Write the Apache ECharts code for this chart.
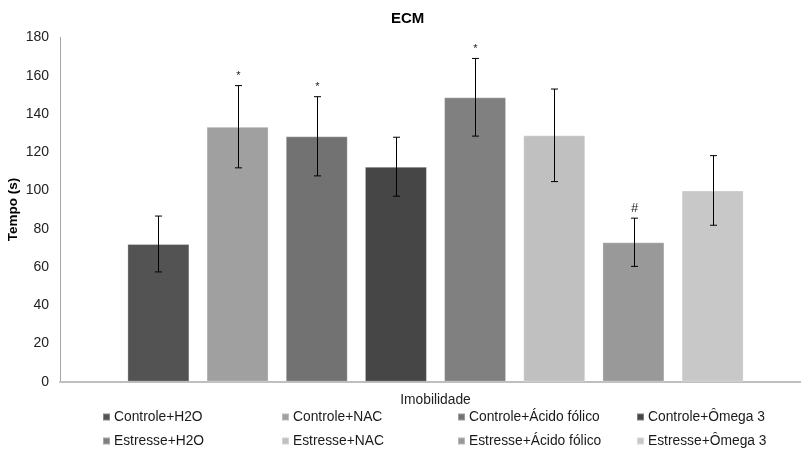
<!DOCTYPE html>
<html>
<head>
<meta charset="utf-8">
<script src="https://cdn.jsdelivr.net/npm/echarts@6/dist/echarts.min.js"></script>
<style>html,body{margin:0;padding:0;background:#fff}#c{width:801px;height:453px}</style>
</head>
<body>
<div id="c"></div>
<script>
var category = ['Imobilidade'];
var groupNames = ['Controle+H2O','Controle+NAC','Controle+Ácido fólico','Controle+Ômega 3','Estresse+H2O','Estresse+NAC','Estresse+Ácido fólico','Estresse+Ômega 3'];
var means = [72.0, 133.3, 128.3, 112.4, 148.7, 128.8, 72.9, 100.0];
var errors = [14.6, 21.5, 20.7, 15.4, 20.3, 24.2, 12.6, 18.2];
var marks = ['', '*', '*', '', '*', '', '#', ''];
var colors = ['#535353','#a0a0a0','#727272','#464646','#808080','#c0c0c0','#999999','#c8c8c8'];
var yTicks = {min: 0, max: 180, interval: 20};

var BAR_W = 62, GAP = 17.2;
var font = '"Liberation Sans", Arial, sans-serif';

var series = groupNames.map(function (n, i) {
  return {
    name: n, type: 'bar', data: [means[i]],
    barWidth: BAR_W, barGap: (GAP / BAR_W * 100).toFixed(1) + '%',
    itemStyle: {color: colors[i], borderColor: 'rgba(255,255,255,0.3)', borderWidth: 1},
    emphasis: {disabled: true}
  };
});

var errData = means.map(function (m, i) { return [0, m, errors[i], i]; });
series.push({
  type: 'custom', name: 'err', silent: true, z: 10,
  data: errData,
  encode: {x: 0, y: 1},
  renderItem: function (params, api) {
    var m = api.value(1), e = api.value(2), i = api.value(3);
    var off = (i - 3.5) * (BAR_W + GAP);
    var top = api.coord([0, m + e]);
    var bot = api.coord([0, m - e]);
    var x = Math.round(top[0] + off) + 0.5;
    var st = {stroke: '#000', lineWidth: 1};
    var children = [
      {type: 'line', shape: {x1: x, y1: top[1], x2: x, y2: bot[1]}, style: st},
      {type: 'line', shape: {x1: x - 3.5, y1: top[1], x2: x + 3.5, y2: top[1]}, style: st},
      {type: 'line', shape: {x1: x - 3.5, y1: bot[1], x2: x + 3.5, y2: bot[1]}, style: st}
    ];
    var mk = marks[i];
    if (mk) {
      children.push({
        type: 'text',
        style: {text: mk, x: x, y: top[1] - (mk === '#' ? 3 : 4), align: 'center', verticalAlign: 'bottom',
          fill: '#222', font: (mk === '#' ? '13px ' : '11px ') + font}
      });
    }
    return {type: 'group', children: children};
  }
});

var legendLefts = [102, 281, 457, 636];
var legendTops = [409, 433];
var legends = groupNames.map(function (n, k) {
  return {
    orient: 'horizontal', left: legendLefts[k % 4], top: legendTops[Math.floor(k / 4)],
    padding: 0, itemWidth: 7, itemHeight: 7,
    icon: 'rect', selectedMode: false,
    data: [n],
    textStyle: {fontFamily: font, fontSize: 13.8, color: '#1a1a1a', lineHeight: 16, padding: [0,0,0,-1]}
  };
});

var chart = echarts.init(document.getElementById('c'), null, {renderer: 'canvas'});
chart.setOption({
  animation: false,
  backgroundColor: '#fff',
  title: {text: 'ECM', left: 386, top: 6,
    textStyle: {fontFamily: font, fontSize: 15, fontWeight: 'bold', color: '#000'}},
  legend: legends,
  grid: {left: 60, top: 37.4, width: 751, bottom: 71.3, containLabel: false, outerBoundsMode: 'none'},
  xAxis: {
    type: 'category', data: category,
    axisLine: {show: true, lineStyle: {color: '#bfbfbf', width: 2}},
    axisTick: {show: false},
    axisLabel: {fontFamily: font, fontSize: 13.8, color: '#222', margin: 11}
  },
  yAxis: {
    type: 'value', min: yTicks.min, max: yTicks.max, interval: yTicks.interval,
    name: 'Tempo (s)', nameLocation: 'middle', nameGap: 40, nameRotate: 90, nameMoveOverlap: false,
    nameTextStyle: {fontFamily: font, fontSize: 13.5, fontWeight: 'bold', color: '#000'},
    axisLine: {show: true, lineStyle: {color: '#a6a6a6', width: 1}},
    axisTick: {show: false},
    splitLine: {show: false},
    axisLabel: {fontFamily: font, fontSize: 14, color: '#222', margin: 11}
  },
  series: series
});
</script>
</body>
</html>
